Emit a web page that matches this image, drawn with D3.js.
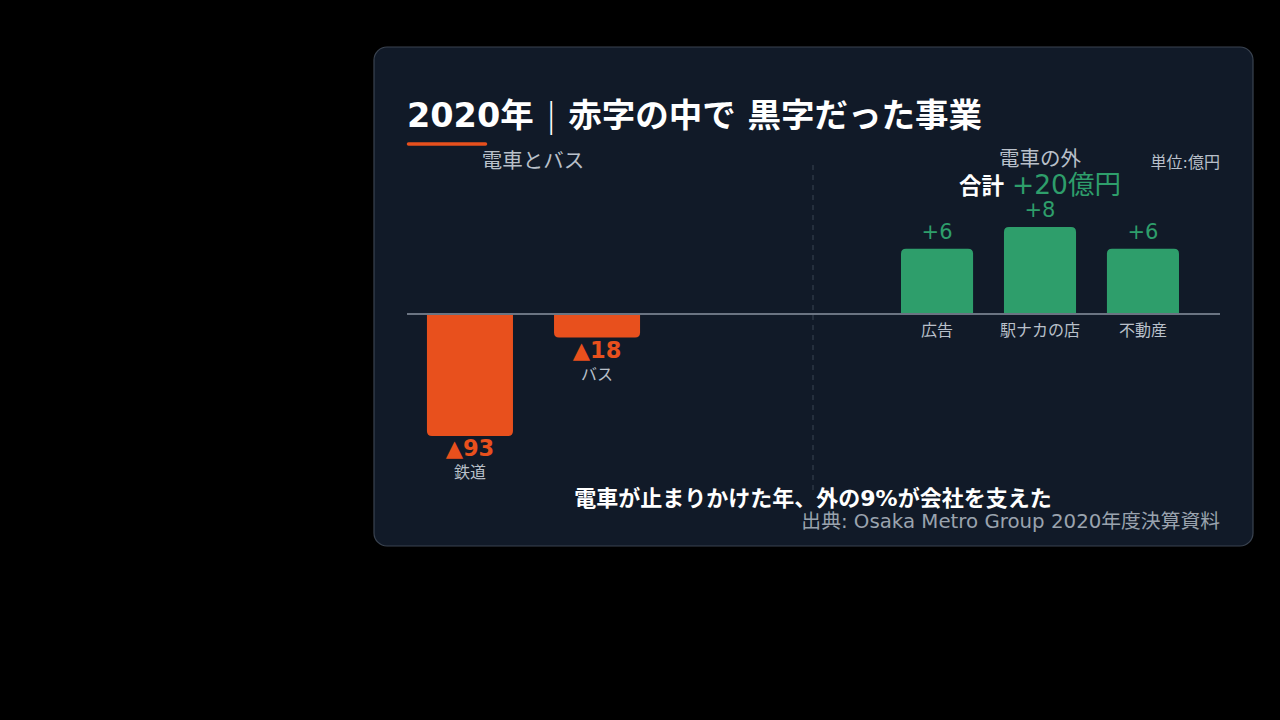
<!DOCTYPE html>
<html><head><meta charset="utf-8">
<script src="https://cdn.jsdelivr.net/npm/d3@7"></script>
<style>
html,body{margin:0;padding:0;background:#000;}
svg{display:block;}
text{font-family:"DejaVu Sans","Noto Sans CJK JP",sans-serif;}
</style></head>
<body><svg id="c" width="1280" height="720"></svg>
<script>
const leftCats = ["鉄道", "バス"];
const leftVals = [-93, -18];
const leftLabels = ["▲93", "▲18"];
const rightCats = ["広告", "駅ナカの店", "不動産"];
const rightVals = [6, 8, 6];
const rightLabels = ["+6", "+8", "+6"];
const totalLabel = "+20億円";

const ORANGE = "#e8501d", GREEN = "#2e9e6b", GRAY = "#b9c0ca";
const svg = d3.select("#c");

svg.append("rect").attr("x",374).attr("y",47).attr("width",879).attr("height",499)
  .attr("rx",13).attr("fill","#111a28").attr("stroke","#3a4350").attr("stroke-width",1.2);

// title
const t = svg.append("text").attr("x",407).attr("y",127).attr("fill","#fff")
  .attr("font-size",33.5).attr("font-weight",700);
t.append("tspan").text("2020年 ");
t.append("tspan").attr("font-weight",200).text("|");
t.append("tspan").text(" 赤字の中で 黒字だった事業");
svg.append("line").attr("x1",408.5).attr("x2",485.5).attr("y1",144).attr("y2",144)
  .attr("stroke",ORANGE).attr("stroke-width",3.5).attr("stroke-linecap","round");

const zeroY = 314;
const yL = d3.scaleLinear().domain([0,-93]).range([zeroY,436]);
const yR = d3.scaleLinear().domain([0,8]).range([zeroY,227]);
const xL = d3.scaleBand().domain(leftCats).range([407,660]).paddingInner(0.323).paddingOuter(0.157);
const xR = d3.scaleBand().domain(rightCats).range([880,1200]).paddingInner(0.3).paddingOuter(0.204);

// divider
svg.append("line").attr("x1",813).attr("x2",813).attr("y1",165).attr("y2",490)
  .attr("stroke","#3a4452").attr("stroke-width",1).attr("stroke-dasharray","5,5");

// group headers
svg.append("text").attr("x",533).attr("y",168).attr("text-anchor","middle").attr("fill",GRAY)
  .attr("font-size",20.5).text("電車とバス");
svg.append("text").attr("x",1040).attr("y",166).attr("text-anchor","middle").attr("fill",GRAY)
  .attr("font-size",20.5).text("電車の外");
svg.append("text").attr("x",1220).attr("y",168).attr("text-anchor","end").attr("fill",GRAY)
  .attr("font-size",16).text("単位:億円");
const tot = svg.append("text").attr("x",1040).attr("y",194).attr("text-anchor","middle");
tot.append("tspan").attr("fill","#fff").attr("font-size",22.5).attr("font-weight",700).text("合計 ");
tot.append("tspan").attr("fill",GREEN).attr("font-size",26.5).text(totalLabel);

// left bars
const lg = svg.append("g");
leftCats.forEach((c,i)=>{
  const v = leftVals[i];
  const y0 = yL(0), y1 = yL(v);
  const x = xL(c), w = xL.bandwidth(), r = 5;
  const path = `M${x},${y0} H${x+w} V${y1-r} Q${x+w},${y1} ${x+w-r},${y1} H${x+r} Q${x},${y1} ${x},${y1-r} Z`;
  lg.append("path").attr("d",path).attr("fill",ORANGE);
  lg.append("text").attr("x",x+w/2).attr("y",y1+20).attr("text-anchor","middle")
    .attr("fill",ORANGE).attr("font-size",22.5).attr("font-weight",700).text(leftLabels[i]);
  lg.append("text").attr("x",x+w/2).attr("y",y1+42).attr("text-anchor","middle")
    .attr("fill",GRAY).attr("font-size",16).text(c);
});

// right bars
const rg = svg.append("g");
rightCats.forEach((c,i)=>{
  const v = rightVals[i];
  const y0 = yR(0), y1 = yR(v);
  const x = xR(c), w = xR.bandwidth(), r = 5;
  const path = `M${x},${y0} V${y1+r} Q${x},${y1} ${x+r},${y1} H${x+w-r} Q${x+w},${y1} ${x+w},${y1+r} V${y0} Z`;
  rg.append("path").attr("d",path).attr("fill",GREEN);
  rg.append("text").attr("x",x+w/2).attr("y",y1-10).attr("text-anchor","middle")
    .attr("fill",GREEN).attr("font-size",21).text(rightLabels[i]);
  rg.append("text").attr("x",x+w/2).attr("y",336).attr("text-anchor","middle")
    .attr("fill",GRAY).attr("font-size",16).text(c);
});

// zero line
svg.append("line").attr("x1",407).attr("x2",1220).attr("y1",zeroY).attr("y2",zeroY)
  .attr("stroke","#6b7482").attr("stroke-width",2);

// caption & source
svg.append("text").attr("x",813).attr("y",506).attr("text-anchor","middle").attr("fill","#fff")
  .attr("font-size",22).attr("font-weight",700).text("電車が止まりかけた年、外の9%が会社を支えた");
svg.append("text").attr("x",1220).attr("y",528).attr("text-anchor","end").attr("fill","#9aa3ae")
  .attr("font-size",19.8).text("出典: Osaka Metro Group 2020年度決算資料");
</script></body></html>
